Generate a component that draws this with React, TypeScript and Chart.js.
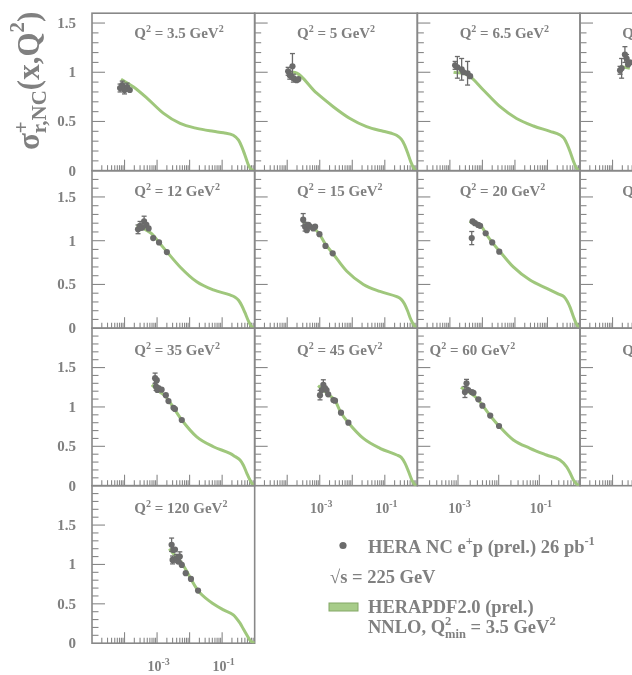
import React, { useEffect, useRef } from "react";
import { Chart, registerables } from "chart.js";

Chart.register(...registerables);

// ---------------- data ----------------
// Q2 = 3.5 GeV2
const q3p5DataX = [7.3e-5, 8.5e-5, 1.0e-4, 1.2e-4, 1.45e-4];
const q3p5DataY = [0.84, 0.87, 0.82, 0.85, 0.82];
const q3p5DataErr = [0.04, 0.04, 0.04, 0.04, 0.03];
const q3p5CurveX = [7.8e-5, 1.9e-4, 4.8e-4, 1.55e-3, 5.1e-3, 1.66e-2, 5.4e-2, 0.11, 0.22, 0.32, 0.4, 0.5, 0.64, 0.8, 1.0];
const q3p5CurveY = [0.93, 0.85, 0.74, 0.585, 0.48, 0.43, 0.4, 0.385, 0.36, 0.31, 0.245, 0.16, 0.06, 0.01, 0];

// Q2 = 5 GeV2
const q5DataX = [1.07e-4, 1.2e-4, 1.45e-4, 1.55e-4, 1.95e-4, 2.2e-4];
const q5DataY = [1.01, 0.97, 1.06, 0.94, 0.92, 0.93];
const q5DataErr = [0.04, 0.04, 0.13, 0.04, 0.03, 0.03];
const q5CurveX = [1.0e-4, 1.55e-4, 8.1e-4, 2.6e-3, 8.5e-3, 2.75e-2, 8.9e-2, 0.16, 0.23, 0.32, 0.4, 0.5, 0.63, 0.8, 1.0];
const q5CurveY = [0.99, 1.0, 0.787, 0.65, 0.53, 0.447, 0.4, 0.38, 0.36, 0.32, 0.265, 0.185, 0.09, 0.02, 0];

// Q2 = 6.5 GeV2
const q6p5DataX = [1.45e-4, 1.7e-4, 2.3e-4, 2.6e-4, 3.5e-4, 4.2e-4];
const q6p5DataY = [1.07, 1.05, 1.03, 1.0, 0.99, 0.96];
const q6p5DataErr = [0.04, 0.11, 0.11, 0.03, 0.12, 0.03];
const q6p5CurveX = [1.3e-4, 3.7e-4, 1.07e-3, 3.5e-3, 1.12e-2, 3.7e-2, 0.12, 0.245, 0.32, 0.4, 0.5, 0.63, 0.8, 1.0];
const q6p5CurveY = [1.0, 0.97, 0.82, 0.65, 0.53, 0.454, 0.4, 0.363, 0.33, 0.27, 0.19, 0.095, 0.02, 0];

// Q2 = 8.5 GeV2 (mostly outside the picture)
const q8p5DataX = [1.7e-4, 1.9e-4, 2.4e-4, 2.7e-4, 3.0e-4, 3.4e-4];
const q8p5DataY = [1.02, 1.04, 1.18, 1.14, 1.08, 1.1];
const q8p5DataErr = [0.04, 0.1, 0.08, 0.04, 0.03, 0.03];
const q8p5CurveX = [1.7e-4, 3.4e-4];
const q8p5CurveY = [1.06, 1.04];

// Q2 = 12 GeV2
const q12DataX = [2.6e-4, 3.0e-4, 3.5e-4, 4.0e-4, 4.7e-4, 5.5e-4, 7.6e-4, 1.15e-3, 2.0e-3];
const q12DataY = [1.13, 1.17, 1.15, 1.22, 1.18, 1.14, 1.03, 0.98, 0.87];
const q12DataErr = [0.05, 0.05, 0.04, 0.06, 0.04, 0.03, 0.02, 0.02, 0.02];
const q12CurveX = [2.35e-4, 6.8e-4, 1.15e-3, 2.0e-3, 5.1e-3, 1.66e-2, 5.4e-2, 0.174, 0.25, 0.32, 0.4, 0.5, 0.63, 0.8, 1.0];
const q12CurveY = [1.18, 1.08, 0.98, 0.874, 0.7, 0.53, 0.437, 0.38, 0.355, 0.32, 0.26, 0.18, 0.09, 0.02, 0];

// Q2 = 15 GeV2
const q15DataX = [3.1e-4, 3.55e-4, 4.0e-4, 4.5e-4, 5.0e-4, 6.3e-4, 7.2e-4, 9.8e-4, 1.5e-3, 2.5e-3];
const q15DataY = [1.24, 1.16, 1.12, 1.18, 1.16, 1.14, 1.16, 1.075, 0.94, 0.856];
const q15DataErr = [0.07, 0.05, 0.04, 0.04, 0.04, 0.03, 0.03, 0.02, 0.02, 0.02];
const q15CurveX = [2.95e-4, 6.3e-4, 9.8e-4, 1.5e-3, 2.5e-3, 6.8e-3, 2.2e-2, 7.1e-2, 0.234, 0.32, 0.4, 0.5, 0.63, 0.8, 1.0];
const q15CurveY = [1.22, 1.15, 1.075, 0.96, 0.856, 0.65, 0.5, 0.42, 0.36, 0.33, 0.28, 0.2, 0.1, 0.03, 0];

// Q2 = 20 GeV2
const q20DataX = [4.7e-4, 5.0e-4, 5.9e-4, 7.4e-4, 8.5e-4, 1.26e-3, 2.0e-3, 3.3e-3];
const q20DataY = [1.03, 1.22, 1.2, 1.18, 1.17, 1.085, 0.98, 0.875];
const q20DataErr = [0.075, 0.04, 0.03, 0.03, 0.02, 0.02, 0.02, 0.02];
const q20CurveX = [4.0e-4, 9.5e-4, 1.26e-3, 2.0e-3, 3.5e-3, 8.9e-3, 2.9e-2, 9.5e-2, 0.22, 0.32, 0.4, 0.5, 0.63, 0.8, 1.0];
const q20CurveY = [1.22, 1.16, 1.085, 0.98, 0.874, 0.7, 0.55, 0.456, 0.39, 0.36, 0.31, 0.235, 0.13, 0.04, 0];

// Q2 = 25 GeV2 (outside the picture)
const q25DataX: number[] = [];
const q25DataY: number[] = [];
const q25DataErr: number[] = [];
const q25CurveX: number[] = [];
const q25CurveY: number[] = [];

// Q2 = 35 GeV2
const q35DataX = [8.7e-4, 9.3e-4, 9.8e-4, 1.02e-3, 1.1e-3, 1.38e-3, 1.86e-3, 2.24e-3, 3.2e-3, 3.55e-3, 5.75e-3];
const q35DataY = [1.365, 1.26, 1.34, 1.215, 1.24, 1.22, 1.15, 1.075, 0.99, 0.974, 0.834];
const q35DataErr = [0.065, 0.05, 0.04, 0.04, 0.04, 0.03, 0.02, 0.02, 0.02, 0.02, 0.02];
const q35CurveX = [6.9e-4, 1.23e-3, 1.86e-3, 3.2e-3, 5.75e-3, 1.66e-2, 5.4e-2, 0.174, 0.25, 0.355, 0.45, 0.575, 0.71, 0.87, 1.0];
const q35CurveY = [1.28, 1.19, 1.13, 0.99, 0.834, 0.62, 0.495, 0.41, 0.37, 0.326, 0.26, 0.157, 0.075, 0.015, 0];

// Q2 = 45 GeV2
const q45DataX = [1.02e-3, 1.15e-3, 1.29e-3, 1.45e-3, 1.62e-3, 1.82e-3, 2.63e-3, 2.95e-3, 4.5e-3, 7.6e-3];
const q45DataY = [1.15, 1.215, 1.28, 1.24, 1.215, 1.16, 1.087, 1.08, 0.927, 0.8];
const q45DataErr = [0.06, 0.04, 0.065, 0.03, 0.03, 0.03, 0.02, 0.02, 0.02, 0.02];
const q45CurveX = [8.9e-4, 1.82e-3, 2.95e-3, 4.5e-3, 7.6e-3, 2.2e-2, 7.1e-2, 0.234, 0.32, 0.42, 0.525, 0.68, 0.83, 1.0];
const q45CurveY = [1.27, 1.16, 1.08, 0.927, 0.8, 0.6, 0.475, 0.39, 0.36, 0.284, 0.19, 0.07, 0.015, 0];

// Q2 = 60 GeV2 (this panel's x axis starts at 1e-4)
const q60DataX = [1.48e-3, 1.62e-3, 1.78e-3, 2.19e-3, 2.4e-3, 3.16e-3, 3.98e-3, 6.2e-3, 1.02e-2];
const q60DataY = [1.19, 1.3, 1.215, 1.19, 1.18, 1.097, 1.016, 0.89, 0.758];
const q60DataErr = [0.07, 0.05, 0.04, 0.03, 0.03, 0.02, 0.02, 0.02, 0.02];
const q60CurveX = [1.18e-3, 2.9e-3, 6.2e-3, 1.02e-2, 2.3e-2, 5.9e-2, 0.15, 0.32, 0.47, 0.56, 0.69, 0.83, 1.0];
const q60CurveY = [1.25, 1.11, 0.889, 0.758, 0.58, 0.475, 0.39, 0.326, 0.24, 0.17, 0.072, 0.02, 0];

// Q2 = 90 GeV2 (outside the picture)
const q90DataX: number[] = [];
const q90DataY: number[] = [];
const q90DataErr: number[] = [];
const q90CurveX: number[] = [];
const q90CurveY: number[] = [];

// Q2 = 120 GeV2
const q120DataX = [2.8e-3, 3.0e-3, 3.16e-3, 3.55e-3, 3.98e-3, 4.47e-3, 5.0e-3, 5.75e-3, 7.6e-3, 1.1e-2, 1.82e-2];
const q120DataY = [1.25, 1.057, 1.185, 1.19, 1.078, 1.036, 1.1, 0.994, 0.889, 0.816, 0.668];
const q120DataErr = [0.085, 0.05, 0.04, 0.04, 0.05, 0.03, 0.06, 0.02, 0.02, 0.02, 0.02];
const q120CurveX = [2.37e-3, 2.8e-3, 5.75e-3, 1.82e-2, 4.3e-2, 0.11, 0.22, 0.355, 0.45, 0.575, 0.71, 0.81, 1.0];
const q120CurveY = [1.2, 1.163, 1.016, 0.668, 0.528, 0.423, 0.36, 0.254, 0.18, 0.105, 0.04, 0.02, 0];

// axis ticks / labels
const ROW_Y_MAX = [1.6, 1.8, 2.0, 2.0];
const Y_TICK_VALUES = [0, 0.5, 1, 1.5];
const Y_TICK_LABELS = ["0", "0.5", "1", "1.5"];
const X_LABEL_VALUES = [1e-3, 1e-1];
const X_LABEL_EXPONENTS = ["-3", "-1"];
const TITLE_X_VALUE = 2e-4;

// ---------------- styling / layout ----------------
const FONT = '"Liberation Serif", "Times New Roman", "DejaVu Serif", serif';
const TEXT_COLOR = "#808080";
const FRAME_COLOR = "#888888";
const POINT_COLOR = "#6b6b6b";
const BAND_COLOR = "#9fc77c";
const BAND_EDGE = "#84a866";
const CANVAS_W = 760;
const CANVAS_H = 675;
const GRID_LEFT = 92;
const GRID_TOP = 13.2;
const PANEL_W = 162.67;
const PANEL_H = 157.5;
const POINT_R = 3.1;
const TITLE_OFFSETS = [24.5, 25.5, 27, 27];

interface PanelSpec {
  q2: string;
  row: number;
  col: number;
  xMin: number;
  dataX: number[];
  dataY: number[];
  dataErr: number[];
  curveX: number[];
  curveY: number[];
  xLabels?: boolean;
  axisTitle?: boolean;
  legend?: boolean;
}

const PANELS: PanelSpec[] = [
  { q2: "3.5", row: 0, col: 0, xMin: 1e-5, dataX: q3p5DataX, dataY: q3p5DataY, dataErr: q3p5DataErr, curveX: q3p5CurveX, curveY: q3p5CurveY, axisTitle: true },
  { q2: "5", row: 0, col: 1, xMin: 1e-5, dataX: q5DataX, dataY: q5DataY, dataErr: q5DataErr, curveX: q5CurveX, curveY: q5CurveY },
  { q2: "6.5", row: 0, col: 2, xMin: 1e-5, dataX: q6p5DataX, dataY: q6p5DataY, dataErr: q6p5DataErr, curveX: q6p5CurveX, curveY: q6p5CurveY },
  { q2: "8.5", row: 0, col: 3, xMin: 1e-5, dataX: q8p5DataX, dataY: q8p5DataY, dataErr: q8p5DataErr, curveX: q8p5CurveX, curveY: q8p5CurveY },
  { q2: "12", row: 1, col: 0, xMin: 1e-5, dataX: q12DataX, dataY: q12DataY, dataErr: q12DataErr, curveX: q12CurveX, curveY: q12CurveY },
  { q2: "15", row: 1, col: 1, xMin: 1e-5, dataX: q15DataX, dataY: q15DataY, dataErr: q15DataErr, curveX: q15CurveX, curveY: q15CurveY },
  { q2: "20", row: 1, col: 2, xMin: 1e-5, dataX: q20DataX, dataY: q20DataY, dataErr: q20DataErr, curveX: q20CurveX, curveY: q20CurveY },
  { q2: "25", row: 1, col: 3, xMin: 1e-5, dataX: q25DataX, dataY: q25DataY, dataErr: q25DataErr, curveX: q25CurveX, curveY: q25CurveY },
  { q2: "35", row: 2, col: 0, xMin: 1e-5, dataX: q35DataX, dataY: q35DataY, dataErr: q35DataErr, curveX: q35CurveX, curveY: q35CurveY },
  { q2: "45", row: 2, col: 1, xMin: 1e-5, dataX: q45DataX, dataY: q45DataY, dataErr: q45DataErr, curveX: q45CurveX, curveY: q45CurveY, xLabels: true },
  { q2: "60", row: 2, col: 2, xMin: 1e-4, dataX: q60DataX, dataY: q60DataY, dataErr: q60DataErr, curveX: q60CurveX, curveY: q60CurveY, xLabels: true },
  { q2: "90", row: 2, col: 3, xMin: 1e-5, dataX: q90DataX, dataY: q90DataY, dataErr: q90DataErr, curveX: q90CurveX, curveY: q90CurveY, xLabels: true },
  { q2: "120", row: 3, col: 0, xMin: 1e-5, dataX: q120DataX, dataY: q120DataY, dataErr: q120DataErr, curveX: q120CurveX, curveY: q120CurveY, xLabels: true, legend: true },
];

// ---------------- rich text helper ----------------
type Seg = { t: string; size: number; dy?: number; stack?: boolean };

function fontOf(size: number) {
  return `bold ${size}px ${FONT}`;
}

function richWidth(ctx: CanvasRenderingContext2D, segs: Seg[]) {
  let w = 0;
  let pending = 0;
  for (const s of segs) {
    ctx.font = fontOf(s.size);
    const sw = ctx.measureText(s.t).width;
    if (s.stack) {
      pending = Math.max(pending, sw);
      continue;
    }
    w += Math.max(pending, sw);
    pending = 0;
  }
  return w + pending;
}

function drawRich(ctx: CanvasRenderingContext2D, segs: Seg[], x: number, y: number) {
  let cx = x;
  let pending = 0;
  ctx.textAlign = "left";
  ctx.textBaseline = "alphabetic";
  for (const s of segs) {
    ctx.font = fontOf(s.size);
    ctx.fillText(s.t, cx, y + (s.dy || 0));
    const sw = ctx.measureText(s.t).width;
    if (s.stack) {
      pending = Math.max(pending, sw);
      continue;
    }
    cx += Math.max(pending, sw);
    pending = 0;
  }
}

function line(ctx: CanvasRenderingContext2D, x1: number, y1: number, x2: number, y2: number) {
  ctx.beginPath();
  ctx.moveTo(x1, y1);
  ctx.lineTo(x2, y2);
  ctx.stroke();
}

function makeDecor(spec: PanelSpec) {
  return {
    id: "panelDecor",
    beforeDatasetsDraw(chart: any) {
      const ctx: CanvasRenderingContext2D = chart.ctx;
      const { left, right, top, bottom } = chart.chartArea;
      const xs = chart.scales.x;
      const ys = chart.scales.y;
      const yMax = ROW_Y_MAX[spec.row];
      ctx.save();
      // ticks
      ctx.strokeStyle = FRAME_COLOR;
      ctx.lineWidth = 1.1;
      const nY = Math.round(yMax * 10);
      for (let i = 1; i < nY; i++) {
        const py = ys.getPixelForValue(i / 10);
        const major = i % 5 === 0;
        line(ctx, left, py, left + (major ? 13 : 6.5), py);
      }
      const dStart = Math.round(Math.log10(spec.xMin));
      for (let d = dStart; d < 0; d++) {
        for (let k = 1; k <= 9; k++) {
          if (k === 1 && d === dStart) continue;
          const px = xs.getPixelForValue(k * Math.pow(10, d));
          line(ctx, px, bottom, px, bottom - (k === 1 ? 11 : 5.5));
        }
      }
      // frame
      ctx.lineWidth = 1.6;
      ctx.strokeRect(left, top, right - left, bottom - top);

      ctx.fillStyle = TEXT_COLOR;
      // y labels
      if (spec.col === 0) {
        ctx.font = fontOf(15);
        ctx.textAlign = "right";
        ctx.textBaseline = "middle";
        Y_TICK_VALUES.forEach((v, i) => {
          ctx.fillText(Y_TICK_LABELS[i], left - 16, ys.getPixelForValue(v) + 1);
        });
      }
      // x labels
      if (spec.xLabels) {
        X_LABEL_VALUES.forEach((v, i) => {
          const segs: Seg[] = [
            { t: "10", size: 14 },
            { t: X_LABEL_EXPONENTS[i], size: 10, dy: -6 },
          ];
          const w = richWidth(ctx, segs);
          drawRich(ctx, segs, xs.getPixelForValue(v) - w / 2 + 1.5, bottom + 27.5);
        });
      }
      // title
      const titleSegs: Seg[] = [
        { t: "Q", size: 15 },
        { t: "2", size: 10, dy: -6 },
        { t: ` = ${spec.q2} GeV`, size: 15 },
        { t: "2", size: 10, dy: -6 },
      ];
      drawRich(ctx, titleSegs, xs.getPixelForValue(TITLE_X_VALUE), top + TITLE_OFFSETS[spec.row]);

      // vertical axis title
      if (spec.axisTitle) {
        ctx.save();
        ctx.translate(39, 150);
        ctx.rotate(-Math.PI / 2);
        drawRich(ctx, [
          { t: "σ", size: 31 },
          { t: "+", size: 21, dy: -11, stack: true },
          { t: "r,NC", size: 21, dy: 7 },
          { t: "(x,Q", size: 31 },
          { t: "2", size: 21, dy: -15 },
          { t: ")", size: 31 },
        ], 0, 0);
        ctx.restore();
      }

      // legend
      if (spec.legend) {
        ctx.fillStyle = POINT_COLOR;
        ctx.beginPath();
        ctx.arc(343, 545.5, 3.6, 0, Math.PI * 2);
        ctx.fill();
        ctx.fillStyle = TEXT_COLOR;
        drawRich(ctx, [
          { t: "HERA NC e", size: 18.5 },
          { t: "+", size: 12.5, dy: -8 },
          { t: "p (prel.) 26 pb", size: 18.5 },
          { t: "-1", size: 12.5, dy: -8 },
        ], 368, 552.7);
        drawRich(ctx, [{ t: "√s = 225 GeV", size: 18.5 }], 330, 583.3);
        ctx.fillStyle = "#a7cc89";
        ctx.fillRect(329, 603, 29, 8);
        ctx.strokeStyle = BAND_EDGE;
        ctx.lineWidth = 1;
        ctx.strokeRect(329, 603, 29, 8);
        ctx.fillStyle = TEXT_COLOR;
        drawRich(ctx, [{ t: "HERAPDF2.0 (prel.)", size: 18.5 }], 368, 612.7);
        drawRich(ctx, [
          { t: "NNLO, Q", size: 18.5 },
          { t: "2", size: 12.5, dy: -8, stack: true },
          { t: "min", size: 12.5, dy: 5 },
          { t: " = 3.5 GeV", size: 18.5 },
          { t: "2", size: 12.5, dy: -8 },
        ], 368, 633.3);
      }
      ctx.restore();
    },
    beforeDatasetDraw(chart: any, args: any) {
      if (args.index !== 0) return;
      const ctx: CanvasRenderingContext2D = chart.ctx;
      const xs = chart.scales.x;
      const ys = chart.scales.y;
      ctx.save();
      ctx.strokeStyle = POINT_COLOR;
      ctx.lineWidth = 1.3;
      spec.dataX.forEach((x, i) => {
        const px = xs.getPixelForValue(x);
        const y = spec.dataY[i];
        const e = spec.dataErr[i];
        const pTop = ys.getPixelForValue(y + e);
        const pBot = ys.getPixelForValue(y - e);
        if (pBot - pTop < 2 * POINT_R + 1) return;
        line(ctx, px, pTop, px, pBot);
        line(ctx, px - 2.5, pTop, px + 2.5, pTop);
        line(ctx, px - 2.5, pBot, px + 2.5, pBot);
      });
      ctx.restore();
    },
  };
}

function Panel({ spec }: { spec: PanelSpec }) {
  const ref = useRef<HTMLCanvasElement | null>(null);
  useEffect(() => {
    if (!ref.current) return;
    const left = GRID_LEFT + spec.col * PANEL_W;
    const top = GRID_TOP + spec.row * PANEL_H;
    const chart = new Chart(ref.current, {
      type: "scatter",
      data: {
        datasets: [
          {
            type: "scatter",
            data: spec.dataX.map((x, i) => ({ x, y: spec.dataY[i] })),
            pointRadius: POINT_R,
            pointHoverRadius: POINT_R,
            backgroundColor: POINT_COLOR,
            borderWidth: 0,
          },
          {
            type: "line",
            data: spec.curveX.map((x, i) => ({ x, y: spec.curveY[i] })),
            borderColor: BAND_COLOR,
            borderWidth: 3,
            pointRadius: 0,
            fill: false,
            cubicInterpolationMode: "monotone",
          },
        ],
      } as any,
      options: {
        responsive: false,
        animation: false,
        devicePixelRatio: 1,
        events: [],
        layout: {
          padding: {
            left,
            top,
            right: CANVAS_W - left - PANEL_W,
            bottom: CANVAS_H - top - PANEL_H,
          },
        },
        scales: {
          x: { type: "logarithmic", min: spec.xMin, max: 1, display: false },
          y: { type: "linear", min: 0, max: ROW_Y_MAX[spec.row], display: false },
        },
        plugins: {
          legend: { display: false },
          tooltip: { enabled: false },
          title: { display: false },
        },
      } as any,
      plugins: [makeDecor(spec) as any],
    });
    return () => chart.destroy();
  }, [spec]);
  return (
    <canvas
      ref={ref}
      width={CANVAS_W}
      height={CANVAS_H}
      style={{ position: "absolute", left: 0, top: 0, width: CANVAS_W, height: CANVAS_H }}
    />
  );
}

export default function App() {
  return (
    <div
      style={{
        position: "absolute",
        left: 0,
        top: 0,
        width: 632,
        height: 675,
        overflow: "hidden",
        background: "#ffffff",
      }}
    >
      {PANELS.map((p, i) => (
        <Panel key={i} spec={p} />
      ))}
    </div>
  );
}
